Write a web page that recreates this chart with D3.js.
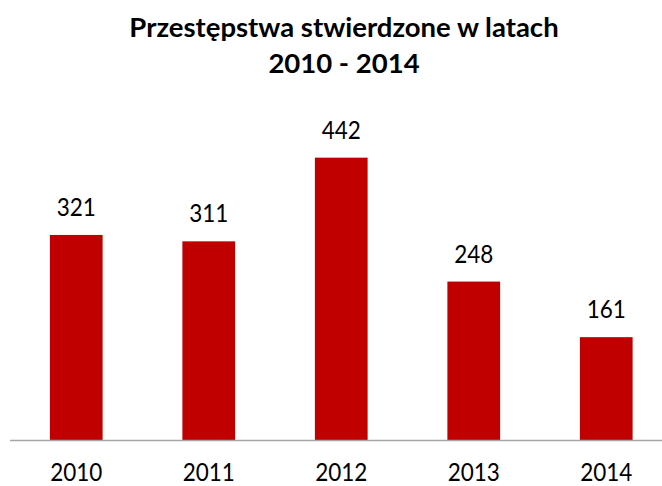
<!DOCTYPE html>
<html>
<head>
<meta charset="utf-8">
<script src="https://cdn.jsdelivr.net/npm/d3@7/dist/d3.min.js"></script>
<style>
  html, body { margin: 0; padding: 0; background: #ffffff; }
  svg { display: block; }
  text { font-family: Lato, "Open Sans", sans-serif; fill: #000000; }
</style>
</head>
<body>
<svg id="chart" width="662" height="486"></svg>
<script>
// Crime counts recorded per year
const years = ["2010", "2011", "2012", "2013", "2014"];
const counts = [321, 311, 442, 248, 161];
const titleLines = ["Przestępstwa stwierdzone w latach", "2010 - 2014"];

const W = 662, H = 486;
const svg = d3.select("#chart");

const x = d3.scaleBand()
  .domain(years)
  .range([10, 672.5])
  .paddingInner(0.602)
  .paddingOuter(0.301);

const y = d3.scaleLinear()
  .domain([0, 500])
  .range([440, 120.6]);

const barColor = "#C00000";
const textScaleX = 0.9;

// Title
const titleCx = 344;
const titleBaselines = [37, 72.7];
titleLines.forEach((line, i) => {
  svg.append("text")
    .attr("x", titleCx)
    .attr("y", titleBaselines[i])
    .attr("text-anchor", "middle")
    .style("font-weight", "bold")
    .style("font-size", "27.5px")
    .text(line);
});

// Bars
svg.append("g")
  .selectAll("rect")
  .data(years.map((yr, i) => ({ yr, v: counts[i] })))
  .join("rect")
  .attr("x", d => x(d.yr))
  .attr("width", x.bandwidth())
  .attr("y", d => y(d.v))
  .attr("height", d => y(0) - y(d.v))
  .attr("fill", barColor);

// Value labels above bars
svg.append("g")
  .selectAll("g")
  .data(years.map((yr, i) => ({ yr, v: counts[i] })))
  .join("g")
  .attr("transform", d => `translate(${x(d.yr) + x.bandwidth() / 2},${y(d.v) - 19}) scale(${textScaleX},1)`)
  .append("text")
  .attr("text-anchor", "middle")
  .style("font-size", "25px")
  .text(d => d.v);

// Category axis
const axis = svg.append("g")
  .attr("transform", `translate(0,${y(0)})`)
  .call(d3.axisBottom(x).tickSize(0).tickPadding(0));
axis.select(".domain")
  .attr("d", `M10,0.5H${W}`)
  .attr("stroke", "#a6a6a6")
  .attr("stroke-width", 1.3);
axis.selectAll(".tick text")
  .attr("y", 0)
  .attr("dy", 0)
  .attr("transform", `translate(0,40.5) scale(${textScaleX},1)`)
  .style("font-family", "Lato, 'Open Sans', sans-serif")
  .style("font-size", "25px")
  .attr("fill", "#000");
</script>
</body>
</html>
